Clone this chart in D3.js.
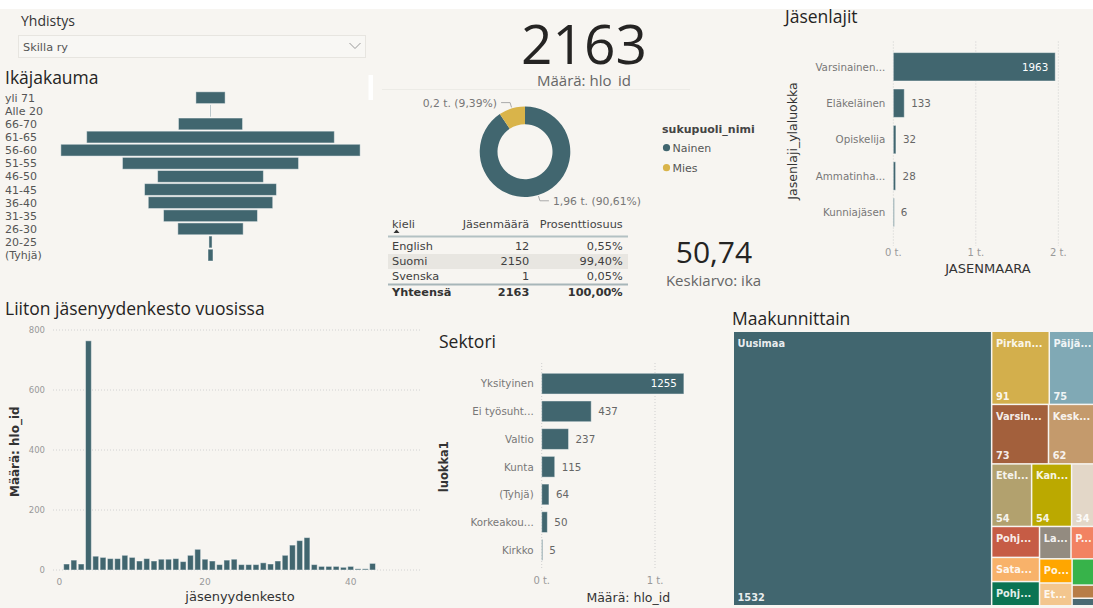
<!DOCTYPE html>
<html>
<head>
<meta charset="utf-8">
<script src="https://cdn.jsdelivr.net/npm/d3@7"></script>
<style>
  body { margin: 0; background: #fff; overflow: hidden; }
  svg text { font-family: 'DejaVu Sans', sans-serif; }
  .title { font-family: 'Open Sans', sans-serif; font-size: 17.5px; fill: #252423; }
  .cat { font-size: 10.3px; fill: #777; }
  .val { font-size: 10.3px; }
  .tick { font-size: 10px; fill: #999; }
  .axtitle { font-size: 12.5px; fill: #333; }
</style>
</head>
<body>
<div id="stage"></div>
<script>
// ---- data
const ageGroups = ['yli 71', 'Alle 20', '66-70', '61-65', '56-60', '51-55', '46-50',
                   '41-45', '36-40', '31-35', '26-30', '20-25', '(Tyhjä)'];
const ageCounts = [47, 1, 103, 398, 481, 283, 170, 212, 200, 151, 105, 5, 8];

const genders = ['Nainen', 'Mies'];
const genderCounts = [1960, 203];

const languages = ['English', 'Suomi', 'Svenska'];
const languageCounts = [12, 2150, 1];

const averageAge = 50.74;

const memberTypes = ['Varsinainen jäsen', 'Eläkeläinen', 'Opiskelija', 'Ammatinharjoittaja', 'Kunniajäsen'];
const memberCounts = [1963, 133, 32, 28, 6];

const durationYears = [1, 2, 3, 4, 5, 6, 7, 8, 9, 10, 11, 12, 13, 14, 15, 16, 17, 18, 19, 20, 21, 22,
                       23, 24, 25, 26, 27, 28, 29, 30, 31, 32, 33, 34, 35, 36, 37, 38, 39, 40, 41, 42, 43];
const durationCounts = [20, 33, 20, 764, 46, 42, 38, 38, 49, 42, 30, 38, 30, 36, 36, 38, 28, 49, 69, 36, 30, 18,
                        33, 36, 18, 18, 18, 24, 20, 30, 49, 83, 98, 108, 18, 12, 12, 12, 9, 12, 4, 4, 22];

const sectors = ['Yksityinen', 'Ei työsuhteessa', 'Valtio', 'Kunta', '(Tyhjä)', 'Korkeakoulut', 'Kirkko'];
const sectorCounts = [1255, 437, 237, 115, 64, 50, 5];

const regions = ['Uusimaa', 'Pirkanmaa', 'Päijät-Häme', 'Varsinais-Suomi', 'Keski-Suomi', 'Etelä-Savo',
                 'Kanta-Häme', 'Kymenlaakso', 'Pohjois-Pohjanmaa', 'Satakunta', 'Pohjois-Savo', 'Lappi',
                 'Pohjois-Karjala', 'Pohjanmaa', 'Etelä-Pohjanmaa', 'Kainuu', 'Keski-Pohjanmaa', 'Ahvenanmaa'];
const regionCounts = [1532, 91, 75, 73, 62, 54, 54, 34, 32, 25, 25, 22, 18, 17, 16, 14, 7, 4];
const regionColors = ['#41666f', '#d3af4c', '#80a9b5', '#a3603c', '#c49a6c', '#b2a16e',
                      '#bba900', '#e3d7c8', '#c65c45', '#f8b26a', '#0b7453', '#938b80',
                      '#f28262', '#ffa600', '#f3c68e', '#37b34a', '#b87d47', '#4a6a73'];

const teal = '#41666f';
const gold = '#d9b44a';

const svg = d3.select('#stage')
              .append('svg')
              .attr('width', 1093)
              .attr('height', 608);

svg.append('rect').attr('width', 1093).attr('height', 608).attr('fill', '#f7f5f1');
svg.append('rect').attr('width', 1093).attr('height', 9).attr('fill', '#fff');

// shorten a label with "..." until it fits
function fitText(sel, maxW) {
    sel.each(function() {
        const t = d3.select(this);
        let s = t.text();
        if (this.getComputedTextLength() <= maxW) return;
        while (s.length > 1) {
            s = s.slice(0, -1).trimEnd();
            t.text(s + '...');
            if (this.getComputedTextLength() <= maxW) return;
        }
        t.text('');
    });
}

const fi = s => s.replace('.', ',');

// ---- slicer
svg.append('text').attr('x', 21).attr('y', 26)
   .style('font-family', 'Open Sans').style('font-size', '14px').attr('fill', '#333')
   .text('Yhdistys');
svg.append('rect').attr('x', 18.5).attr('y', 35.5).attr('width', 347).attr('height', 22)
   .attr('fill', '#f8f7f4').attr('stroke', '#e7e5e0');
svg.append('text').attr('x', 23).attr('y', 50.5)
   .style('font-size', '11.3px').attr('fill', '#555').text('Skilla ry');
svg.append('path').attr('d', 'M349.5,43 L355,48.5 L360.5,43')
   .attr('fill', 'none').attr('stroke', '#999').attr('stroke-width', 1);

// ---- Ikäjakauma (funnel)
svg.append('text').attr('class', 'title').attr('x', 5).attr('y', 84).text('Ikäjakauma');
svg.append('rect').attr('x', 368.5).attr('y', 75).attr('width', 4.5).attr('height', 25).attr('fill', '#fff');

const ageY = d3.scaleBand().domain(ageGroups).range([91.8, 261]).paddingInner(0.1);
const ageW = d3.scaleLinear().domain([0, d3.max(ageCounts)]).range([0, 299.3]);
const ageCx = 210.5;

svg.append('g').selectAll('rect')
   .data(ageGroups)
   .join('rect')
   .attr('x', (d, i) => ageCx - ageW(ageCounts[i]) / 2)
   .attr('y', d => ageY(d))
   .attr('width', (d, i) => ageW(ageCounts[i]))
   .attr('height', ageY.bandwidth())
   .attr('fill', teal)
   .attr('stroke', 'rgba(255,255,255,0.45)')
   .attr('stroke-width', 1);

svg.append('g').selectAll('text')
   .data(ageGroups)
   .join('text')
   .attr('x', 5)
   .attr('y', d => ageY(d) + ageY.bandwidth() / 2 + 4)
   .style('font-size', '11px')
   .attr('fill', '#555')
   .text(d => d);

// ---- card: total members
const total = d3.sum(languageCounts);
svg.append('text').attr('x', 584).attr('y', 64).attr('text-anchor', 'middle')
   .style('font-family', 'Open Sans').style('font-size', '55px').attr('fill', '#252423')
   .text(total);
svg.append('clipPath').attr('id', 'cardclip')
   .append('rect').attr('x', 500).attr('y', 60).attr('width', 170).attr('height', 27);
svg.append('text').attr('x', 584).attr('y', 86).attr('text-anchor', 'middle')
   .attr('clip-path', 'url(#cardclip)')
   .style('font-family', 'Open Sans').style('font-size', '15px').attr('fill', '#666')
   .text('Määrä: hlo_id');
svg.append('line').attr('x1', 382).attr('x2', 690).attr('y1', 89.5).attr('y2', 89.5)
   .attr('stroke', '#ecebe6');

// ---- donut by gender
const cx = 525, cy = 151.7, rOut = 45.3, rIn = 27.5;
const pie = d3.pie().sort(null)(genderCounts);
const arc = d3.arc().innerRadius(rIn).outerRadius(rOut);
const genderTotal = d3.sum(genderCounts);
const donut = svg.append('g').attr('transform', `translate(${cx},${cy})`);
donut.selectAll('path')
     .data(pie)
     .join('path')
     .attr('d', arc)
     .attr('fill', (d, i) => [teal, gold][i]);

pie.forEach((p, i) => {
    const a = (p.startAngle + p.endAngle) / 2;
    const side = Math.sin(a) >= 0 ? 1 : -1;
    const p0 = [Math.sin(a) * (rOut + 1), -Math.cos(a) * (rOut + 1)];
    const p1 = [Math.sin(a) * (rOut + 6), -Math.cos(a) * (rOut + 6)];
    const p2 = [p1[0] + side * 9, p1[1]];
    donut.append('polyline')
         .attr('points', [p0, p1, p2].map(q => q.join(',')).join(' '))
         .attr('fill', 'none').attr('stroke', '#aaa').attr('stroke-width', 1);
    const label = fi(d3.format('.2~f')(genderCounts[i] / 1000)) + ' t. (' +
                  fi(d3.format('.2f')(genderCounts[i] / genderTotal * 100)) + '%)';
    donut.append('text')
         .attr('x', p2[0] + side * 4)
         .attr('y', p2[1] + 4)
         .attr('text-anchor', side > 0 ? 'start' : 'end')
         .style('font-size', '10.8px').attr('fill', '#777')
         .text(label);
});

// legend
svg.append('text').attr('x', 662).attr('y', 133)
   .style('font-size', '11px').style('font-weight', 'bold').attr('fill', '#444')
   .text('sukupuoli_nimi');
const legend = svg.append('g').selectAll('g')
                  .data(genders)
                  .join('g')
                  .attr('transform', (d, i) => `translate(666.5,${147.7 + i * 20})`);
legend.append('circle').attr('r', 3.6).attr('fill', (d, i) => [teal, gold][i]);
legend.append('text').attr('x', 6).attr('y', 4)
      .style('font-size', '11px').attr('fill', '#555').text(d => d);

// ---- language table
const tbl = svg.append('g').style('font-size', '11.3px');
const colName = 392, colCount = 529.3, colPct = 622.7;
tbl.append('text').attr('x', colName).attr('y', 227.5).attr('fill', '#444').text('kieli');
tbl.append('path').attr('d', 'M393.5,233 L396.5,229.5 L399.5,233 Z').attr('fill', '#333');
tbl.append('text').attr('x', colCount).attr('y', 227.5).attr('text-anchor', 'end').attr('fill', '#444').text('Jäsenmäärä');
tbl.append('text').attr('x', colPct).attr('y', 227.5).attr('text-anchor', 'end').attr('fill', '#444').text('Prosenttiosuus');
tbl.append('line').attr('x1', 388).attr('x2', 628).attr('y1', 236.5).attr('y2', 236.5)
   .attr('stroke', '#b3c1c3').attr('stroke-width', 2);

const rowY = d3.scaleBand().domain(languages).range([239, 284]);
tbl.selectAll('rect.band')
   .data(languages.filter((d, i) => i % 2 === 1))
   .join('rect')
   .attr('class', 'band')
   .attr('x', 388).attr('width', 240)
   .attr('y', d => rowY(d)).attr('height', rowY.bandwidth())
   .attr('fill', '#e8e6e1');

const rows = tbl.selectAll('g.row')
                .data(languages)
                .join('g')
                .attr('class', 'row')
                .attr('transform', d => `translate(0,${rowY(d) + 11})`);
rows.append('text').attr('x', colName).attr('fill', '#404040').text(d => d);
rows.append('text').attr('x', colCount).attr('text-anchor', 'end').attr('fill', '#404040')
    .text((d, i) => languageCounts[i]);
rows.append('text').attr('x', colPct).attr('text-anchor', 'end').attr('fill', '#404040')
    .text((d, i) => fi(d3.format('.2f')(languageCounts[i] / total * 100)) + '%');

tbl.append('line').attr('x1', 388).attr('x2', 628).attr('y1', 284.5).attr('y2', 284.5)
   .attr('stroke', '#a7b6b9').attr('stroke-width', 2);
const totRow = tbl.append('g').style('font-weight', 'bold').attr('fill', '#333');
totRow.append('text').attr('x', colName).attr('y', 295.5).text('Yhteensä');
totRow.append('text').attr('x', colCount).attr('y', 295.5).attr('text-anchor', 'end').text(total);
totRow.append('text').attr('x', colPct).attr('y', 295.5).attr('text-anchor', 'end').text('100,00%');

// ---- card: average age
svg.append('text').attr('x', 714).attr('y', 263).attr('text-anchor', 'middle')
   .style('font-family', 'Open Sans').style('font-size', '30px').attr('fill', '#252423')
   .text(fi(d3.format('.2f')(averageAge)));
svg.append('text').attr('x', 713.5).attr('y', 286).attr('text-anchor', 'middle')
   .style('font-family', 'Open Sans').style('font-size', '15px').attr('fill', '#666')
   .text('Keskiarvo: ika');

// ---- horizontal bar charts
function hbar(cfg) {
    const g = svg.append('g');
    const x = d3.scaleLinear().domain(cfg.domain).range(cfg.xRange);
    const y = d3.scaleBand().domain(cfg.cats).range(cfg.yRange).paddingInner(cfg.pad).paddingOuter(cfg.pad / 2);

    g.selectAll('line.grid')
     .data(cfg.ticks)
     .join('line')
     .attr('x1', d => x(d)).attr('x2', d => x(d))
     .attr('y1', cfg.gridTop).attr('y2', cfg.gridBottom)
     .attr('stroke', '#cfcfcf').attr('stroke-dasharray', '1,2');

    g.selectAll('text.tick')
     .data(cfg.ticks)
     .join('text')
     .attr('class', 'tick')
     .attr('x', d => x(d)).attr('y', cfg.tickY)
     .attr('text-anchor', 'middle')
     .text(d => (d / 1000) + ' t.');

    g.selectAll('rect')
     .data(cfg.cats)
     .join('rect')
     .attr('x', x(0))
     .attr('y', d => y(d))
     .attr('width', (d, i) => Math.max(1, x(cfg.vals[i]) - x(0)))
     .attr('height', y.bandwidth())
     .attr('fill', teal)
     .attr('stroke', 'rgba(255,255,255,0.45)');

    g.selectAll('text.cat')
     .data(cfg.cats)
     .join('text')
     .attr('class', 'cat')
     .attr('x', x(0) - 8)
     .attr('y', d => y(d) + y.bandwidth() / 2 + 3.8)
     .attr('text-anchor', 'end')
     .text(d => d)
     .call(fitText, cfg.labelW);

    g.selectAll('text.val')
     .data(cfg.cats)
     .join('text')
     .attr('class', 'val')
     .attr('y', d => y(d) + y.bandwidth() / 2 + 3.8)
     .each(function(d, i) {
         const v = cfg.vals[i];
         const inside = x(v) - x(0) > 60;
         d3.select(this)
           .attr('x', inside ? x(v) - 7 : x(v) + 7)
           .attr('text-anchor', inside ? 'end' : 'start')
           .style('fill', inside ? '#ffffff' : '#666')
           .text(v);
     });
    return g;
}

// Jäsenlajit
svg.append('text').attr('class', 'title').attr('x', 785).attr('y', 23).text('Jäsenlajit');
hbar({
    cats: memberTypes, vals: memberCounts, domain: [0, 2000], xRange: [893.3, 1058.3],
    yRange: [48.6, 230.6], pad: 0.22, ticks: [0, 1000, 2000],
    gridTop: 41.5, gridBottom: 246, tickY: 255.5, labelW: 72
});
svg.append('text').attr('class', 'axtitle')
   .attr('transform', 'translate(797,141) rotate(-90)').attr('text-anchor', 'middle')
   .style('font-size', '12.5px').text('Jasenlaji_ylaluokka');
svg.append('text').attr('class', 'axtitle').attr('x', 988).attr('y', 272.5)
   .attr('text-anchor', 'middle').style('font-size', '13px').attr('fill', '#444').text('JASENMAARA');

// Sektori
svg.append('text').attr('class', 'title').attr('x', 439).attr('y', 348).text('Sektori');
hbar({
    cats: sectors, vals: sectorCounts, domain: [0, 1000], xRange: [541.7, 655],
    yRange: [369.8, 563.7], pad: 0.25, ticks: [0, 1000],
    gridTop: 363, gridBottom: 570, tickY: 584, labelW: 65
});
svg.append('text').attr('class', 'axtitle')
   .attr('transform', 'translate(448,466.7) rotate(-90)').attr('text-anchor', 'middle')
   .style('font-size', '11.5px').style('font-weight', 'bold').text('luokka1');
svg.append('text').attr('class', 'axtitle').attr('x', 628.3).attr('y', 602)
   .attr('text-anchor', 'middle').attr('fill', '#444').text('Määrä: hlo_id');

// ---- histogram of membership duration
svg.append('text').attr('class', 'title').attr('x', 5).attr('y', 315).text('Liiton jäsenyydenkesto vuosissa');
const hx = d3.scaleLinear().domain([0, 40]).range([59.3, 350.7]);
const hy = d3.scaleLinear().domain([0, 800]).range([570, 330]);
const hTicks = [0, 200, 400, 600, 800];

svg.append('g').selectAll('line')
   .data(hTicks)
   .join('line')
   .attr('x1', 53).attr('x2', 420)
   .attr('y1', d => hy(d)).attr('y2', d => hy(d))
   .attr('stroke', '#d2d2d2').attr('stroke-dasharray', '1,2');

svg.append('g').selectAll('text')
   .data(hTicks)
   .join('text')
   .attr('x', 45).attr('y', d => hy(d) + 3)
   .attr('text-anchor', 'end')
   .style('font-size', '8.5px').attr('fill', '#999')
   .text(d => d);

svg.append('g').selectAll('text')
   .data([0, 20, 40])
   .join('text')
   .attr('x', d => hx(d)).attr('y', 585)
   .attr('text-anchor', 'middle')
   .style('font-size', '9px').attr('fill', '#999')
   .text(d => d);

const barW = (hx(1) - hx(0)) * 0.8;
svg.append('g').selectAll('rect')
   .data(durationYears)
   .join('rect')
   .attr('x', d => hx(d) - barW / 2)
   .attr('y', (d, i) => hy(durationCounts[i]))
   .attr('width', barW)
   .attr('height', (d, i) => hy(0) - hy(durationCounts[i]))
   .attr('fill', teal)
   .attr('stroke', 'rgba(255,255,255,0.45)');

svg.append('text').attr('class', 'axtitle')
   .attr('transform', 'translate(19,451.7) rotate(-90)').attr('text-anchor', 'middle')
   .style('font-size', '12px').style('font-weight', 'bold').text('Määrä: hlo_id');
svg.append('text').attr('class', 'axtitle').attr('x', 240).attr('y', 600.5)
   .attr('text-anchor', 'middle').style('font-size', '13px').attr('fill', '#444').text('jäsenyydenkesto');

// ---- treemap by region
svg.append('text').attr('class', 'title').attr('x', 732).attr('y', 325).text('Maakunnittain');
const tmX = 734, tmY = 332;
const root = d3.hierarchy({children: regions.map((r, i) => ({name: r, value: regionCounts[i], color: regionColors[i]}))})
               .sum(d => d.value || 0)
               .sort((a, b) => b.value - a.value);
d3.treemap().size([362, 273]).paddingInner(1.5)(root);

const cells = svg.append('g')
                 .attr('transform', `translate(${tmX},${tmY})`)
                 .selectAll('g')
                 .data(root.leaves())
                 .join('g')
                 .attr('transform', d => `translate(${d.x0},${d.y0})`);
cells.append('rect')
     .attr('width', d => d.x1 - d.x0)
     .attr('height', d => d.y1 - d.y0)
     .attr('fill', d => d.data.color);
cells.filter(d => d.y1 - d.y0 > 18)
     .append('text')
     .attr('x', 3.5).attr('y', 14.5)
     .style('font-size', '9.8px').style('font-weight', 'bold')
     .attr('fill', '#fff').attr('fill-opacity', 0.9)
     .text(d => d.data.name)
     .each(function(d) {
         // fit inside the cell and inside the page edge
         const room = Math.min(d.x1 - d.x0 - 4.5, 1093 - tmX - d.x0 - 3.5);
         fitText(d3.select(this), room);
     });
cells.filter(d => d.y1 - d.y0 > 40)
     .append('text')
     .attr('x', 3.5).attr('y', d => d.y1 - d.y0 - 4)
     .style('font-size', '9.8px').style('font-weight', 'bold')
     .attr('fill', '#fff').attr('fill-opacity', 0.9)
     .text(d => d.value);
</script>
</body>
</html>
